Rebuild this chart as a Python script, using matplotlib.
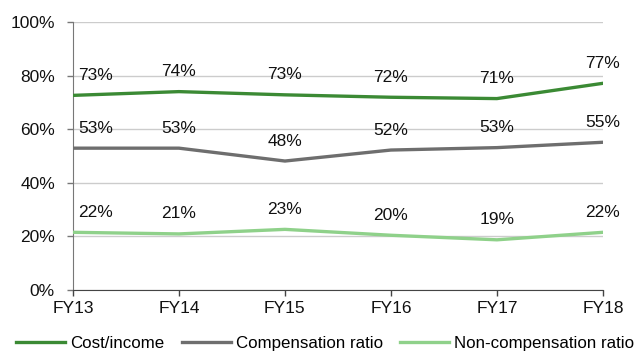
import matplotlib.pyplot as plt
from matplotlib.ticker import FuncFormatter

plt.rcParams['font.family'] = ['Liberation Sans', 'DejaVu Sans']

years = ['FY13', 'FY14', 'FY15', 'FY16', 'FY17', 'FY18']
cost_income = [72.6, 74.0, 72.8, 71.9, 71.4, 77.1]
comp_ratio = [52.9, 52.9, 48.1, 52.2, 53.1, 55.1]
noncomp_ratio = [21.5, 20.9, 22.6, 20.4, 18.7, 21.5]

series = [
    ('Cost/income', cost_income, '#3b8a34'),
    ('Compensation ratio', comp_ratio, '#6e6e6e'),
    ('Non-compensation ratio', noncomp_ratio, '#8fd18a'),
]

fig = plt.figure(figsize=(6.4, 3.54), dpi=100)
ax = fig.add_axes([0.114, 0.181, 0.828, 0.757])

x = range(len(years))
for name, vals, col in series:
    ax.plot(x, vals, color=col, lw=2.4, label=name, solid_joinstyle='round', zorder=3)
    for i, v in enumerate(vals):
        if i == 0:
            ax.annotate(f'{v:.0f}%', (i, v), xytext=(4, 9), textcoords='offset points',
                        ha='left', va='bottom', fontsize=12.5, color='#111111')
        else:
            ax.annotate(f'{v:.0f}%', (i, v), xytext=(0, 9), textcoords='offset points',
                        ha='center', va='bottom', fontsize=12.5, color='#111111')

ax.set_xlim(0, len(years) - 1)
ax.set_ylim(0, 100)
ax.set_yticks([0, 20, 40, 60, 80, 100])
ax.yaxis.set_major_formatter(FuncFormatter(lambda v, p: f'{v:.0f}%'))
ax.set_xticks(list(x))
ax.set_xticklabels(years)
ax.grid(axis='y', color='#cccccc', lw=1)
ax.set_axisbelow(True)

for s in ['top', 'right']:
    ax.spines[s].set_visible(False)
ax.spines['left'].set_color('#777777')
ax.spines['bottom'].set_color('#444444')
ax.tick_params(axis='both', labelsize=12.5, colors='#111111', length=4, width=1)
ax.tick_params(axis='y', color='#777777', pad=9)
ax.tick_params(axis='x', color='#444444', pad=4)

fig.legend(loc='lower center', bbox_to_anchor=(0.508, -0.035), ncol=3, frameon=False,
           fontsize=12.2, handlelength=2.9, handletextpad=0.3, columnspacing=1.0)

fig.savefig('out.png', dpi=100)
